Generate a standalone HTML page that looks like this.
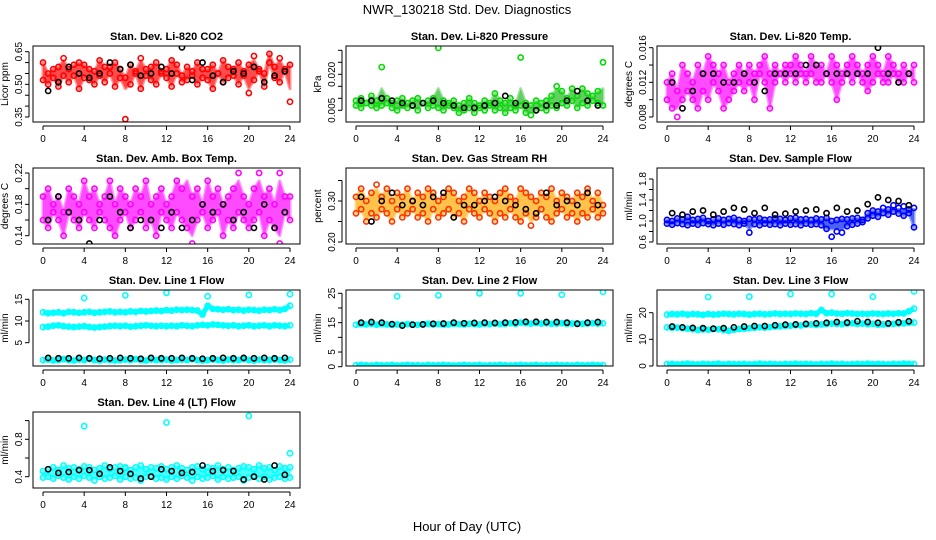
<!DOCTYPE html>
<html><head><meta charset="utf-8"><style>
body{margin:0;background:#fff}
svg{display:block;font-family:"Liberation Sans",sans-serif}
</style></head><body>
<svg id="chart" width="936" height="540" viewBox="0 0 936 540">
<text x="467" y="14" font-size="13" text-anchor="middle">NWR_130218  Std. Dev. Diagnostics</text>
<text x="467" y="531" font-size="13" text-anchor="middle">Hour of Day (UTC)</text>
</svg>
<script>
const hours=[0,0.5,1,1.5,2,2.5,3,3.5,4,4.5,5,5.5,6,6.5,7,7.5,8,8.5,9,9.5,10,10.5,11,11.5,12,12.5,13,13.5,14,14.5,15,15.5,16,16.5,17,17.5,18,18.5,19,19.5,20,20.5,21,21.5,22,22.5,23,23.5,24];
const kHours=[0.5,1.5,2.5,3.5,4.5,5.5,6.5,7.5,8.5,9.5,10.5,11.5,12.5,13.5,14.5,15.5,16.5,17.5,18.5,19.5,20.5,21.5,22.5,23.5];
const outHours=[4,8,12,16,20,24];
const xTicks=[0,4,8,12,16,20,24];

const c1a=[0.60,0.55,0.53,0.58,0.62,0.57,0.54,0.60,0.59,0.52,0.56,0.61,0.58,0.55,0.60,0.57,0.53,0.59,0.56,0.62,0.54,0.58,0.60,0.55,0.57,0.61,0.59,0.54,0.58,0.56,0.60,0.53,0.57,0.59,0.55,0.61,0.58,0.54,0.60,0.56,0.59,0.63,0.57,0.55,0.60,0.58,0.62,0.56,0.59];
const c1b=[0.52,0.50,0.57,0.49,0.54,0.51,0.59,0.48,0.53,0.57,0.50,0.54,0.51,0.58,0.49,0.53,0.34,0.50,0.55,0.48,0.57,0.52,0.50,0.56,0.53,0.49,0.55,0.51,0.52,0.54,0.50,0.57,0.52,0.48,0.55,0.51,0.53,0.57,0.50,0.54,0.46,0.52,0.56,0.49,0.64,0.53,0.51,0.57,0.42];
const k1=[0.47,0.51,0.58,0.55,0.53,0.55,0.60,0.57,0.59,0.54,0.55,0.58,0.55,0.67,0.52,0.60,0.54,0.51,0.56,0.55,0.58,0.51,0.54,0.56];

const c2a=[0.009,0.010,0.008,0.011,0.009,0.023,0.010,0.008,0.009,0.010,0.008,0.009,0.010,0.008,0.009,0.010,0.031,0.009,0.008,0.009,0.007,0.008,0.010,0.008,0.007,0.009,0.008,0.012,0.009,0.008,0.010,0.007,0.027,0.008,0.007,0.009,0.008,0.009,0.011,0.015,0.013,0.010,0.014,0.011,0.014,0.012,0.011,0.013,0.025];
const c2b=[0.007,0.006,0.008,0.007,0.006,0.007,0.008,0.006,0.005,0.007,0.006,0.007,0.005,0.008,0.006,0.007,0.006,0.005,0.007,0.006,0.004,0.005,0.006,0.004,0.006,0.005,0.007,0.005,0.006,0.004,0.006,0.005,0.007,0.004,0.003,0.005,0.006,0.005,0.007,0.006,0.008,0.007,0.009,0.006,0.008,0.007,0.009,0.008,0.007];
const k2=[0.009,0.009,0.010,0.009,0.008,0.007,0.008,0.009,0.008,0.007,0.006,0.006,0.007,0.008,0.011,0.008,0.007,0.005,0.007,0.007,0.009,0.013,0.009,0.007];

const c3a=[0.012,0.013,0.011,0.014,0.013,0.012,0.014,0.013,0.015,0.014,0.013,0.014,0.012,0.013,0.014,0.013,0.014,0.013,0.014,0.015,0.013,0.014,0.013,0.014,0.014,0.015,0.014,0.013,0.015,0.014,0.014,0.013,0.015,0.014,0.013,0.014,0.015,0.014,0.013,0.014,0.015,0.014,0.013,0.015,0.014,0.013,0.014,0.013,0.014];
const c3b=[0.010,0.009,0.008,0.010,0.011,0.010,0.009,0.011,0.010,0.012,0.011,0.009,0.010,0.011,0.012,0.011,0.012,0.010,0.013,0.012,0.009,0.012,0.013,0.012,0.013,0.012,0.013,0.012,0.013,0.012,0.012,0.013,0.012,0.010,0.012,0.013,0.012,0.013,0.012,0.011,0.012,0.013,0.012,0.012,0.013,0.012,0.012,0.013,0.012];
const k3=[0.012,0.009,0.011,0.013,0.013,0.012,0.012,0.013,0.012,0.011,0.013,0.013,0.013,0.014,0.014,0.013,0.013,0.013,0.013,0.013,0.016,0.013,0.012,0.013];

const c4a=[0.19,0.20,0.18,0.19,0.17,0.20,0.19,0.18,0.21,0.19,0.20,0.18,0.19,0.21,0.18,0.20,0.19,0.18,0.20,0.19,0.21,0.18,0.19,0.20,0.18,0.19,0.21,0.20,0.23,0.19,0.20,0.18,0.21,0.19,0.20,0.18,0.19,0.20,0.22,0.19,0.18,0.20,0.22,0.19,0.20,0.18,0.22,0.19,0.19];
const c4b=[0.16,0.15,0.17,0.16,0.14,0.17,0.16,0.15,0.17,0.16,0.15,0.17,0.16,0.15,0.14,0.16,0.17,0.15,0.16,0.17,0.15,0.16,0.14,0.17,0.16,0.15,0.17,0.16,0.15,0.13,0.16,0.17,0.15,0.16,0.17,0.14,0.16,0.15,0.17,0.16,0.15,0.16,0.17,0.14,0.16,0.15,0.13,0.17,0.16];
const k4=[0.16,0.19,0.17,0.16,0.13,0.16,0.19,0.17,0.15,0.16,0.16,0.15,0.17,0.15,0.16,0.18,0.17,0.18,0.16,0.17,0.15,0.18,0.15,0.17];

const c5a=[0.31,0.33,0.30,0.32,0.34,0.31,0.33,0.30,0.32,0.31,0.33,0.30,0.32,0.31,0.33,0.32,0.30,0.31,0.33,0.32,0.30,0.31,0.33,0.32,0.30,0.32,0.31,0.30,0.32,0.33,0.31,0.30,0.33,0.32,0.31,0.30,0.32,0.31,0.33,0.30,0.32,0.31,0.30,0.32,0.31,0.33,0.30,0.32,0.29];
const c5b=[0.27,0.28,0.25,0.27,0.26,0.28,0.27,0.25,0.28,0.26,0.27,0.28,0.26,0.27,0.25,0.28,0.26,0.27,0.28,0.26,0.27,0.25,0.28,0.27,0.26,0.28,0.27,0.25,0.27,0.26,0.28,0.26,0.25,0.27,0.24,0.26,0.28,0.26,0.25,0.27,0.28,0.26,0.27,0.25,0.27,0.26,0.28,0.26,0.27];
const k5=[0.31,0.25,0.30,0.32,0.29,0.30,0.29,0.31,0.32,0.26,0.29,0.29,0.30,0.31,0.30,0.29,0.28,0.27,0.32,0.29,0.30,0.29,0.32,0.29];

const c6a=[1.02,1.00,1.05,1.03,1.08,1.02,1.04,1.06,1.00,1.03,1.05,1.02,1.04,1.06,1.02,1.00,1.04,1.03,1.05,1.02,1.03,1.05,1.04,1.02,1.05,1.06,1.03,1.04,1.02,1.05,1.03,1.06,1.00,1.02,1.04,1.03,1.05,1.06,1.02,1.15,1.20,1.18,1.25,1.22,1.30,1.25,1.28,1.22,1.25];
const c6b=[0.95,0.93,0.96,0.94,0.92,0.95,0.93,0.96,0.94,0.92,0.95,0.93,0.96,0.94,0.92,0.95,0.78,0.94,0.92,0.95,0.93,0.94,0.92,0.95,0.93,0.94,0.92,0.95,0.93,0.94,0.92,0.85,0.70,0.80,0.78,0.90,0.93,0.95,0.98,1.05,1.10,1.08,1.15,1.12,1.18,1.14,1.10,1.15,0.88];
const k6=[1.15,1.12,1.18,1.20,1.12,1.18,1.25,1.22,1.15,1.25,1.12,1.14,1.18,1.20,1.22,1.15,1.25,1.18,1.20,1.32,1.45,1.40,1.38,1.30];

const c7a=[12.0,11.8,11.9,12.0,11.8,12.1,12.0,11.9,12.0,12.1,11.9,12.0,12.1,12.2,12.0,12.1,12.0,12.2,12.1,12.3,12.2,12.3,12.4,12.3,12.5,12.4,12.6,12.5,12.6,12.5,12.4,11.5,13.5,12.8,12.7,12.6,12.7,12.5,12.6,12.4,12.6,12.5,12.4,12.6,12.5,12.7,12.5,12.8,13.5];
const c7b=[8.6,8.7,8.9,9.0,8.8,8.7,8.6,8.7,8.8,8.6,8.5,8.6,8.7,8.8,8.9,8.8,8.9,8.7,8.8,8.9,9.0,8.9,8.8,8.9,8.8,8.9,8.8,9.0,8.9,8.8,9.0,9.1,9.0,9.2,9.1,9.0,8.9,9.0,8.8,8.9,9.0,8.8,8.9,9.0,8.8,9.0,8.9,8.8,9.0];
const c7c=[1.0,1.1,0.9,1.0,1.2,1.0,0.9,1.1,1.0,1.2,1.0,0.9,1.1,1.0,0.9,1.0,1.1,1.0,1.2,1.0,0.9,1.1,1.0,1.0,1.1,0.9,1.0,1.1,1.0,1.2,1.0,0.9,1.0,1.1,1.0,0.9,1.1,1.0,1.0,1.2,1.0,0.9,1.1,1.0,1.0,1.1,1.0,0.9,1.1];
const o7=[15.3,15.9,16.5,15.7,16.0,16.2];
const k7=[1.5,1.4,1.4,1.5,1.4,1.3,1.4,1.5,1.4,1.3,1.5,1.4,1.4,1.5,1.4,1.3,1.4,1.5,1.4,1.5,1.4,1.5,1.4,1.5];

const c8a=[14.3,14.5,14.4,14.6,14.3,14.5,14.4,14.2,14.4,14.3,14.5,14.4,14.3,14.5,14.6,14.4,14.5,14.3,14.4,14.6,14.5,14.4,14.6,14.5,14.4,14.6,14.5,14.7,14.5,14.6,14.8,14.6,15.0,14.8,14.7,14.9,14.7,14.8,14.6,14.7,14.8,14.6,14.7,14.8,14.6,14.7,14.8,14.7,14.8];
const c8b=[0.5,0.6,0.5,0.4,0.6,0.5,0.5,0.6,0.4,0.5,0.6,0.5,0.5,0.4,0.6,0.5,0.5,0.6,0.5,0.4,0.5,0.6,0.5,0.5,0.6,0.4,0.5,0.5,0.6,0.5,0.4,0.5,0.6,0.5,0.5,0.6,0.4,0.5,0.5,0.6,0.5,0.5,0.4,0.6,0.5,0.5,0.6,0.5,0.5];
const o8=[24.0,24.3,25.0,25.0,24.5,25.5];
const k8=[15.0,15.2,15.0,14.5,14.0,14.3,14.4,14.6,14.7,15.0,14.8,14.9,15.0,14.9,15.0,15.1,15.3,15.3,15.2,15.2,15.0,14.6,15.0,15.2];

const c9a=[19.3,19.5,19.4,19.6,19.3,19.5,19.4,19.2,19.5,19.3,19.4,19.6,19.5,19.4,19.6,19.5,19.3,19.5,19.6,19.4,19.5,19.7,19.5,19.6,19.5,19.7,19.6,19.5,19.8,19.6,21.0,19.8,20.0,19.7,19.6,19.8,19.7,19.5,19.6,19.5,19.7,19.6,19.5,19.7,19.6,19.8,19.7,20.5,21.5];
const c9b=[14.5,14.3,14.4,14.2,14.0,13.8,13.5,13.7,13.6,13.9,13.8,13.5,13.2,13.6,13.9,14.0,14.2,14.3,14.5,14.4,14.6,14.8,14.9,15.0,15.1,15.3,15.2,15.5,15.6,15.4,15.6,15.7,15.9,15.8,15.7,15.9,16.0,15.8,15.9,15.7,15.8,15.5,15.6,15.7,15.8,15.9,16.0,16.2,16.3];
const c9c=[0.7,0.8,0.6,0.7,0.9,0.7,0.6,0.8,0.7,0.7,0.9,0.6,0.8,0.7,0.7,0.8,0.6,0.7,0.9,0.7,0.8,0.7,0.6,0.8,0.7,0.9,0.7,0.8,0.7,0.6,0.8,0.7,0.9,0.7,0.8,0.6,0.7,0.8,0.7,0.9,0.7,0.8,0.7,0.6,0.8,0.7,0.9,0.8,0.7];
const o9=[25.9,26.0,27.0,27.0,26.0,28.0];
const k9=[14.8,14.5,14.3,14.2,14.0,14.2,14.5,14.8,15.0,15.0,15.3,15.5,15.6,15.8,16.0,16.2,16.5,16.3,16.8,16.5,16.2,16.0,16.4,16.8];

const c10a=[0.46,0.48,0.50,0.47,0.52,0.49,0.50,0.48,0.51,0.50,0.47,0.49,0.52,0.48,0.50,0.51,0.49,0.47,0.50,0.52,0.48,0.50,0.49,0.51,0.48,0.50,0.52,0.49,0.47,0.50,0.51,0.48,0.50,0.49,0.52,0.48,0.50,0.47,0.49,0.51,0.50,0.48,0.52,0.49,0.50,0.47,0.51,0.49,0.50];
const c10b=[0.39,0.40,0.38,0.41,0.39,0.37,0.40,0.38,0.41,0.39,0.36,0.40,0.38,0.39,0.41,0.37,0.40,0.38,0.39,0.36,0.40,0.41,0.38,0.39,0.37,0.40,0.38,0.41,0.39,0.36,0.40,0.38,0.39,0.41,0.37,0.40,0.38,0.39,0.40,0.36,0.39,0.41,0.38,0.40,0.37,0.39,0.40,0.38,0.39];
const o10=[0.94,0.50,0.98,0.45,1.05,0.65];
const k10=[0.48,0.44,0.45,0.47,0.47,0.43,0.50,0.46,0.43,0.38,0.40,0.48,0.46,0.44,0.45,0.52,0.46,0.47,0.46,0.37,0.40,0.37,0.52,0.42];

const NS='http://www.w3.org/2000/svg';
const svg=document.getElementById('chart');
function mk(tag,attrs,parent){const e=document.createElementNS(NS,tag);for(const k in attrs)e.setAttribute(k,attrs[k]);(parent||svg).appendChild(e);return e;}
function pct(arr,q){const s=arr.slice().sort((a,b)=>a-b);return s[Math.floor(q*(s.length-1))];}

const colX=[33,346,657];
const rowY=[46,168,290,412];
const BW=267,BH=76;
const panels=[
 {name:'li820-co2',title:'Stan. Dev. Li-820 CO2',yl:'Licor ppm',c:0,r:0,col:'#ff0000',fill:'#ff0000',cal:[0.65,51.7,0.35,117],ticks:[0.35,0.40,0.45,0.50,0.55,0.60,0.65],labs:['0.35','','','0.50','','','0.65'],band:[c1b,c1a],out:null,k:k1},
 {name:'li820-pressure',title:'Stan. Dev. Li-820 Pressure',yl:'kPa',c:1,r:0,col:'#00dd00',fill:'#22bb22',cal:[0.020,74.3,0.005,110.3],ticks:[0.005,0.010,0.015,0.020,0.025,0.030],labs:['0.005','','','0.020','',''],band:[c2b,c2a],out:null,k:k2},
 {name:'li820-temp',title:'Stan. Dev. Li-820 Temp.',yl:'degrees C',c:2,r:0,col:'#ff00ff',fill:'#ff00ff',cal:[0.016,47.7,0.008,117],ticks:[0.008,0.010,0.012,0.014,0.016],labs:['0.008','','0.012','','0.016'],band:[c3b,c3a],out:null,k:k3},
 {name:'amb-box-temp',title:'Stan. Dev. Amb. Box Temp.',yl:'degrees C',c:0,r:1,col:'#ff00ff',fill:'#ff00ff',cal:[0.22,173,0.14,235.7],ticks:[0.14,0.16,0.18,0.20,0.22],labs:['0.14','','0.18','','0.22'],band:[c4b,c4a],out:null,k:k4},
 {name:'gas-stream-rh',title:'Stan. Dev. Gas Stream RH',yl:'percent',c:1,r:1,col:'#ff3300',fill:'#ffaa00',cal:[0.30,201,0.20,242],ticks:[0.20,0.25,0.30,0.35],labs:['0.20','','0.30',''],band:[c5b,c5a],out:null,k:k5},
 {name:'sample-flow',title:'Stan. Dev. Sample Flow',yl:'ml/min',c:2,r:1,col:'#0000ff',fill:'#0022ee',cal:[1.8,179,0.6,242],ticks:[0.6,0.8,1.0,1.2,1.4,1.6,1.8],labs:['0.6','','1.0','','1.4','','1.8'],band:[c6b,c6a],out:null,k:k6},
 {name:'line1-flow',title:'Stan. Dev. Line 1 Flow',yl:'ml/min',c:0,r:2,col:'#00ffff',fill:null,cal:[15,299.3,5,342.7],ticks:[5,10,15],labs:['5','10','15'],lines:[c7a,c7b,c7c],out:o7,k:k7},
 {name:'line2-flow',title:'Stan. Dev. Line 2 Flow',yl:'ml/min',c:1,r:2,col:'#00ffff',fill:null,cal:[25,293.3,0,366.7],ticks:[0,5,10,15,20,25],labs:['0','5','','15','','25'],lines:[c8a,c8b],out:o8,k:k8},
 {name:'line3-flow',title:'Stan. Dev. Line 3 Flow',yl:'ml/min',c:2,r:2,col:'#00ffff',fill:null,cal:[20,312.7,0,366],ticks:[0,10,20],labs:['0','10','20'],lines:[c9a,c9b,c9c],out:o9,k:k9},
 {name:'line4-flow',title:'Stan. Dev. Line 4 (LT) Flow',yl:'ml/min',c:0,r:3,col:'#00ffff',fill:'#00ffff',cal:[0.8,439.3,0.4,476.7],ticks:[0.4,0.6,0.8,1.0],labs:['0.4','','0.8',''],band:[c10b,c10a],out:o10,k:k10}
];

panels.forEach(p=>{
  const bx=colX[p.c],by=rowY[p.r];
  const g=mk('g',{});
  
  
  const xs=h=>bx+10+h*(BW-20)/24;
  const ys=v=>p.cal[1]+(v-p.cal[0])*(p.cal[3]-p.cal[1])/(p.cal[2]-p.cal[0]);
  const clip='clip-'+p.name;
  const cp=mk('clipPath',{id:clip},g);mk('rect',{x:bx,y:by,width:BW,height:BH},cp);
  const data=mk('g',{'clip-path':'url(#'+clip+')'},g);
  
  
  if(p.band){
    const lo=p.band[0],hi=p.band[1];
    const loMin=pct(lo,0.1),hiMax=pct(hi,0.9);
    const hiC=hi.map(v=>Math.min(v,hiMax)),loC=lo.map(v=>Math.max(v,loMin));
    const poly=hours.map((h,i)=>xs(h)+','+ys(Math.max(hiC[i],loC[i]))).concat(hours.slice().reverse().map((h,j)=>{const i=hours.length-1-j;return xs(h)+','+ys(Math.min(hiC[i],loC[i]));})).join(' ');
    const bp=mk('polygon',{points:poly,fill:p.fill,opacity:0.7,stroke:p.fill,'stroke-width':3,'stroke-linejoin':'round','stroke-opacity':0.6},data);
    
    
    [lo,hi].forEach(arr=>arr.forEach((v,i)=>{
      const c=mk('circle',{cx:xs(hours[i]),cy:ys(v),r:2.6,fill:'none',stroke:p.col,'stroke-width':1.6},data);
      
      
    }));
  }
  if(p.lines){
    p.lines.forEach(arr=>{
      const pl=mk('polyline',{points:hours.map((h,i)=>xs(h)+','+ys(arr[i])).join(' '),fill:'none',stroke:p.col,'stroke-width':5,'stroke-linejoin':'round'},data);
      
      
      arr.forEach((v,i)=>{
        const c=mk('circle',{cx:xs(hours[i]),cy:ys(v),r:2.6,fill:'none',stroke:p.col,'stroke-width':1.6},data);
        
        
      });
    });
  }
  if(p.out){
    p.out.forEach((v,i)=>{
      const c=mk('circle',{cx:xs(outHours[i]),cy:ys(v),r:2.6,fill:'none',stroke:p.col,'stroke-width':1.6},data);
      
      
    });
  }
  p.k.forEach((v,i)=>{
    const c=mk('circle',{cx:xs(kHours[i]),cy:ys(v),r:2.6,fill:'none',stroke:'#000','stroke-width':1.6},data);
    
    
  });
  const box=mk('rect',{x:bx,y:by,width:BW,height:BH,fill:'none',stroke:'#000','stroke-width':1},g);
  
  
  const t=mk('text',{x:bx+BW/2,y:by-6,'font-size':11,'font-weight':'bold','text-anchor':'middle'},g);
  t.textContent=p.title;
  
  
  const xa=mk('g',{},g);
  
  
  mk('line',{x1:xs(0),x2:xs(24),y1:by+BH+4,y2:by+BH+4,stroke:'#000'},xa);
  xTicks.forEach(v=>{
    mk('line',{x1:xs(v),x2:xs(v),y1:by+BH+4,y2:by+BH+8,stroke:'#000'},xa);
    const tl=mk('text',{x:xs(v),y:by+BH+20,'font-size':10,'text-anchor':'middle'},xa);
    tl.textContent=String(v);
    
    
  });
  const ya=mk('g',{},g);
  
  
  const y0=ys(p.ticks[0]),y1=ys(p.ticks[p.ticks.length-1]);
  mk('line',{x1:bx-4,x2:bx-4,y1:y0,y2:y1,stroke:'#000'},ya);
  p.ticks.forEach((v,i)=>{
    const yy=ys(v);
    mk('line',{x1:bx-8,x2:bx-4,y1:yy,y2:yy,stroke:'#000'},ya);
    if(p.labs[i]){
      const tl=mk('text',{x:bx-11,y:yy,'font-size':10,'text-anchor':'middle',transform:'rotate(-90 '+(bx-11)+' '+yy+')'},ya);
      tl.textContent=p.labs[i];
      
      
    }
  });
  const yt=mk('text',{x:bx-25,y:by+BH/2,'font-size':10,'text-anchor':'middle',transform:'rotate(-90 '+(bx-25)+' '+(by+BH/2)+')'},ya);
  yt.textContent=p.yl;
  
  
});
</script>
</body></html>
